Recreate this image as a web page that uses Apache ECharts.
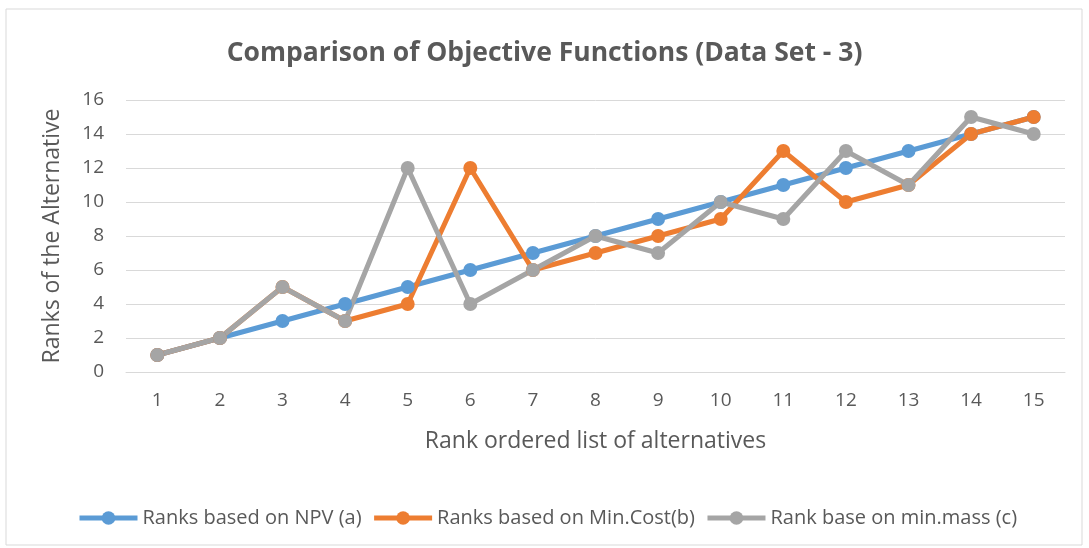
<!DOCTYPE html>
<html>
<head>
<meta charset="utf-8">
<script src="https://cdn.jsdelivr.net/npm/echarts@6/dist/echarts.min.js"></script>
<style>
	html, body { margin: 0; padding: 0; background: #fff; }
	#chart { width: 1089px; height: 548px; }
</style>
</head>
<body>
<div id="chart"></div>
<script>
var categories = ["1","2","3","4","5","6","7","8","9","10","11","12","13","14","15"];
var ranksNPV = [1,2,3,4,5,6,7,8,9,10,11,12,13,14,15];
var ranksMinCost = [1,2,5,3,4,12,6,7,8,9,13,10,11,14,15];
var ranksMinMass = [1,2,5,3,12,4,6,8,7,10,9,13,11,15,14];

var FONT = "Open Sans";
var TXT = "#595959";

var myChart = echarts.init( document.getElementById( "chart" ) );

var mkSeries = function( name, data, color ){
	return {
		name: name,
		type: "line",
		data: data,
		symbol: "circle",
		symbolSize: 14,
		lineStyle: { width: 5, color: color },
		itemStyle: { color: color },
		emphasis: { disabled: true }
	};
};

var option = {
	animation: false,
	backgroundColor: "#fff",
	//차트 외곽 테두리;
	graphic: [
		{
			type: "rect",
			shape: { x: 6, y: 9, width: 1076, height: 536 },
			style: { fill: null, stroke: "#d9d9d9", lineWidth: 1 },
			silent: true
		}
	],
	title: {
		text: "Comparison of Objective Functions (Data Set - 3)",
		left: "center",
		top: 35,
		textStyle: { fontFamily: FONT, fontSize: 26.5, fontWeight: "bold", color: TXT }
	},
	legend: {
		top: 503,
		left: 72,
		itemWidth: 58,
		itemHeight: 17,
		itemGap: 10,
		lineStyle: { width: 5 },
		textStyle: { fontFamily: FONT, fontSize: 20, color: TXT },
		data: ["Ranks based on NPV (a)", "Ranks based on Min.Cost(b)", "Rank base on min.mass (c)"]
	},
	grid: { left: 126, right: 24, top: 100, bottom: 176, containLabel: false },
	xAxis: {
		type: "category",
		data: categories,
		boundaryGap: true,
		name: "Rank ordered list of alternatives",
		nameLocation: "middle",
		nameGap: 58,
		nameTextStyle: { fontFamily: FONT, fontSize: 23, color: TXT },
		axisLine: { lineStyle: { color: "#d9d9d9", width: 1 } },
		axisTick: { show: false },
		axisLabel: { fontFamily: FONT, fontSize: 19, color: TXT, margin: 19 }
	},
	yAxis: {
		type: "value",
		min: 0,
		max: 16,
		interval: 2,
		name: "Ranks of the Alternative",
		nameLocation: "middle",
		nameGap: 62,
		nameTextStyle: { fontFamily: FONT, fontSize: 23, color: TXT },
		axisLine: { show: false },
		axisTick: { show: false },
		splitLine: { lineStyle: { color: "#d9d9d9", width: 1 } },
		axisLabel: { fontFamily: FONT, fontSize: 19, color: TXT, margin: 22 }
	},
	series: [
		mkSeries( "Ranks based on NPV (a)", ranksNPV, "#5b9bd5" ),
		mkSeries( "Ranks based on Min.Cost(b)", ranksMinCost, "#ed7d31" ),
		mkSeries( "Rank base on min.mass (c)", ranksMinMass, "#a5a5a5" )
	]
};

myChart.setOption( option, true );
</script>
</body>
</html>
